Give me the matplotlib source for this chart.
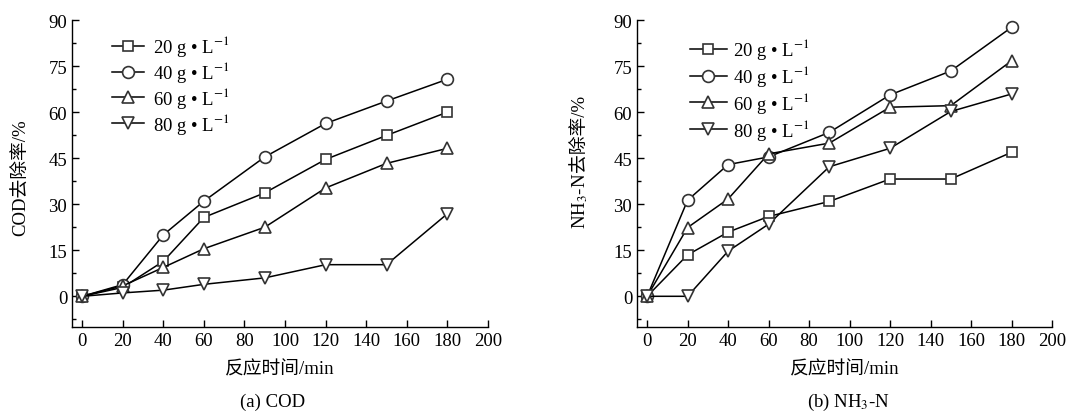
import matplotlib
matplotlib.use("Agg")
import matplotlib.pyplot as plt
from matplotlib.ticker import MultipleLocator

plt.rcParams['font.family'] = ['Liberation Serif', 'Noto Sans CJK SC', 'DejaVu Sans']
plt.rcParams['mathtext.fontset'] = 'stix'

time = [0, 20, 40, 60, 90, 120, 150, 180]
labels = ["20 g • L$^{-1}$", "40 g • L$^{-1}$", "60 g • L$^{-1}$", "80 g • L$^{-1}$"]

cod_20 = [0, 2.9, 11.4, 25.7, 33.7, 44.6, 52.4, 60.0]
cod_40 = [0, 3.8, 20.0, 31.0, 45.4, 56.3, 63.6, 70.7]
cod_60 = [0, 3.4, 9.4, 15.5, 22.5, 35.3, 43.3, 48.2]
cod_80 = [0, 1.1, 2.0, 3.9, 6.0, 10.3, 10.3, 26.9]

nh_20 = [0, 13.5, 20.9, 26.0, 30.9, 38.2, 38.2, 46.9]
nh_40 = [0, 31.3, 42.9, 45.4, 53.4, 65.6, 73.4, 87.6]
nh_60 = [0, 22.4, 31.7, 46.4, 49.9, 61.6, 62.1, 76.7]
nh_80 = [0, 0.0, 14.7, 23.5, 42.2, 48.2, 60.2, 65.9]

markers = ['s', 'o', '^', 'v']
msizes = [7.5, 8.5, 9, 9]
FS = 13.5

fig = plt.figure(figsize=(10.68, 4.14), dpi=100)
ax1 = fig.add_axes([72/1068, 1-328/414, (488-72)/1068, (328-21)/414])
ax2 = fig.add_axes([637/1068, 1-328/414, (1052-637)/1068, (328-21)/414])

def style(ax):
    ax.set_xlim(-5, 200)
    ax.set_ylim(-10, 90)
    ax.xaxis.set_major_locator(MultipleLocator(20))
    ax.yaxis.set_major_locator(MultipleLocator(15))
    ax.yaxis.set_minor_locator(MultipleLocator(7.5))
    ax.spines['top'].set_visible(False)
    ax.spines['right'].set_visible(False)
    for s in ('left', 'bottom'):
        ax.spines[s].set_linewidth(1.0)
    ax.tick_params(axis='both', which='major', direction='in', length=5, width=1.0, labelsize=FS)
    ax.tick_params(axis='y', which='minor', direction='in', length=3, width=1.0)
    ax.set_xlabel("反应时间/min", fontsize=FS, labelpad=8)

def draw(ax, series):
    for y, m, ms, lab in zip(series, markers, msizes, labels):
        ax.plot(time, y, color='black', lw=1.1, marker=m, ms=ms, mfc='white',
                mec='#333333', mew=1.2, label=lab)

draw(ax1, [cod_20, cod_40, cod_60, cod_80])
draw(ax2, [nh_20, nh_40, nh_60, nh_80])
style(ax1)
style(ax2)

ax1.legend(loc='upper left', bbox_to_anchor=(0.065, 1.0), frameon=False, fontsize=FS,
           handlelength=1.7, handletextpad=0.5, labelspacing=0.05, borderpad=0.2)
ax2.legend(loc='upper left', bbox_to_anchor=(0.095, 0.99), frameon=False, fontsize=FS,
           handlelength=2.0, handletextpad=0.3, labelspacing=0.1, borderpad=0.2)

# y labels (split so CJK glyphs don't go through mathtext)
fig.text(22/1068, 1-178/414, "COD去除率/%", rotation=90, ha='center', va='center', fontsize=FS)

renderer = fig.canvas.get_renderer()
W, H = fig.bbox.width, fig.bbox.height
xc = 580/1068
t1 = fig.text(xc, 0, "NH$_3$-N", rotation=90, ha='center', va='bottom', fontsize=FS)
t2 = fig.text(xc, 0, "去除率/%", rotation=90, ha='center', va='bottom', fontsize=FS)
h1 = t1.get_window_extent(renderer).height
h2 = t2.get_window_extent(renderer).height
ycen = (414 - 162)
y0 = ycen - (h1 + h2) / 2
t1.set_position((xc, y0 / H))
t2.set_position((xc, (y0 + h1) / H))

fig.text(273/1068, 1-402/414, "(a) COD", ha='center', va='center', fontsize=FS)
fig.text(848/1068, 1-402/414, "(b) NH$_3$-N", ha='center', va='center', fontsize=FS)

fig.savefig("out.png", dpi=100)
